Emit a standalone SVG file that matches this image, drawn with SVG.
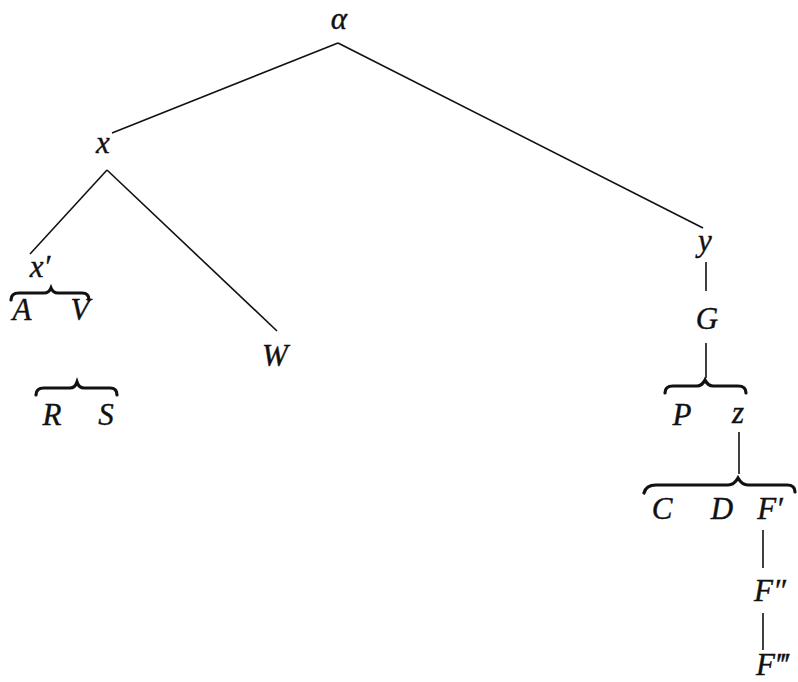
<svg xmlns="http://www.w3.org/2000/svg" width="798" height="682" viewBox="0 0 798 682">
<style>
text{font-family:'Liberation Serif','Times New Roman',serif;font-style:italic;font-size:31px;fill:#111;stroke:#111;stroke-width:0.4;text-anchor:middle}
.l{stroke:#111;stroke-width:1.6;fill:none}
.b{stroke:#111;stroke-width:3.2;fill:none;stroke-linecap:round}
</style>
<rect width="798" height="682" fill="#fff"/>
<g id="connectors">
<line class="l" x1="338" y1="43" x2="112" y2="133"/>
<line class="l" x1="338" y1="43" x2="703" y2="228"/>
<line class="l" x1="107" y1="170" x2="30" y2="254"/>
<line class="l" x1="107" y1="170" x2="277" y2="331"/>
<line class="l" x1="706" y1="262" x2="706" y2="291"/>
<line class="l" x1="706" y1="343" x2="706" y2="378"/>
<line class="l" x1="739" y1="432" x2="739" y2="474"/>
<line class="l" x1="763" y1="530" x2="763" y2="568"/>
<line class="l" x1="763" y1="613" x2="763" y2="650"/>
</g>
<g id="n-alpha"><text x="339" y="29">α</text></g>
<g id="n-x"><text x="103" y="153">x</text></g>
<g id="n-xp"><text x="40" y="277">x′</text></g>
<g id="n-brace-AV"><path class="b" d="M11 300 Q11 293 19 293 L44 293 Q49 293 51 288 Q53 293 58 293 L82 293 Q89 293 89 300"/></g>
<g id="n-A"><text x="22" y="320">A</text></g>
<g id="n-V"><text x="80" y="320">V</text></g>
<g id="n-W"><text x="275" y="366">W</text></g>
<g id="n-brace-RS"><path class="b" d="M36 395 Q36 388 44 388 L70 388 Q75 388 77 382 Q79 388 84 388 L110 388 Q117 388 117 395"/></g>
<g id="n-R"><text x="52" y="425">R</text></g>
<g id="n-S"><text x="106" y="425">S</text></g>
<g id="n-y"><text x="705" y="251">y</text></g>
<g id="n-G"><text x="707" y="329">G</text></g>
<g id="n-brace-Pz"><path class="b" d="M665 393 Q665 386 673 386 L697 386 Q702 386 705 380 Q708 386 713 386 L738 386 Q746 386 746 393"/></g>
<g id="n-P"><text x="682" y="425">P</text></g>
<g id="n-z"><text x="738" y="423">z</text></g>
<g id="n-brace-CDF"><path class="b" d="M644 493 Q646 485 656 485 L728 485 Q734 485 738 478 Q742 485 748 485 L787 485 Q795 485 795 492"/></g>
<g id="n-C"><text x="662" y="519">C</text></g>
<g id="n-D"><text x="722" y="519">D</text></g>
<g id="n-F1"><text x="770" y="519">F′</text></g>
<g id="n-F2"><text x="770" y="601">F″</text></g>
<g id="n-F3"><text x="772" y="675">F‴</text></g>
</svg>
